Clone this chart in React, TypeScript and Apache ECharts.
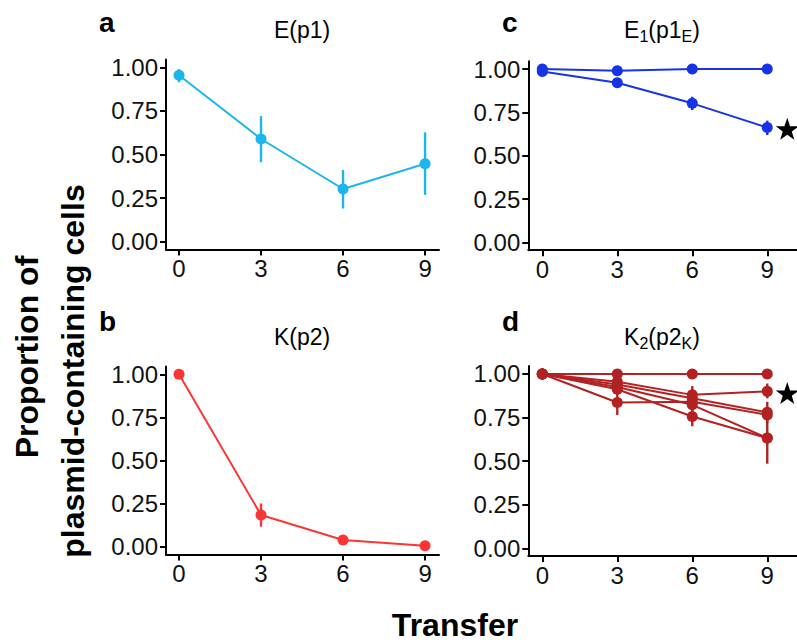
import React, { useEffect, useRef } from "react";
import * as echarts from "echarts";

const transfers = [0, 3, 6, 9];
const yTicks = [0, 0.25, 0.5, 0.75, 1];

// panel a: E(p1)
const aMean = [0.955, 0.589, 0.302, 0.447];
const aLo = [0.914, 0.455, 0.19, 0.268];
const aHi = [0.99, 0.72, 0.411, 0.627];

// panel b: K(p2)
const bMean = [1.0, 0.184, 0.039, 0.006];
const bLo = [1.0, 0.116, 0.039, 0.006];
const bHi = [1.0, 0.251, 0.039, 0.006];

// panel c: E1(p1E)
const cLine1 = [1.0, 0.99, 1.0, 1.0];
const cLine2 = [0.985, 0.921, 0.802, 0.662];
const cLine2Lo = [0.975, 0.912, 0.763, 0.619];
const cLine2Hi = [0.995, 0.93, 0.84, 0.702];

// panel d: K2(p2K)
const dLines = [
  [1.0, 1.0, 1.0, 1.0],
  [1.0, 0.955, 0.88, 0.9],
  [1.0, 0.94, 0.86, 0.78],
  [1.0, 0.836, 0.84, 0.765],
  [1.0, 0.925, 0.823, 0.632],
  [1.0, 0.912, 0.756, 0.632],
];
const dLo = [
  [1.0, 1.0, 1.0, 1.0],
  [1.0, 0.94, 0.85, 0.86],
  [1.0, 0.92, 0.8, 0.72],
  [1.0, 0.765, 0.82, 0.74],
  [1.0, 0.9, 0.79, 0.485],
  [1.0, 0.89, 0.7, 0.6],
];
const dHi = [
  [1.0, 1.0, 1.0, 1.0],
  [1.0, 0.97, 0.93, 0.945],
  [1.0, 0.96, 0.9, 0.84],
  [1.0, 0.908, 0.86, 0.79],
  [1.0, 0.95, 0.85, 0.78],
  [1.0, 0.93, 0.81, 0.66],
];

// star markers (significance)
const starC = [9.8, 0.655];
const starD = [9.8, 0.89];

const COL_A = "#1cb6ec";
const COL_B = "#fb3535";
const COL_C = "#1634e6";
const COL_D = "#b22222";

const FONT = "'Liberation Sans', Arial, Helvetica, sans-serif";
const STAR =
  "path://M50,0 L61.8,35.5 L98,35.5 L68.8,57.5 L79.6,92 L50,70.8 L20.4,92 L31.2,57.5 L2,35.5 L38.2,35.5 Z";

export default function App() {
  const ref = useRef<HTMLDivElement>(null);

  useEffect(() => {
    if (!ref.current) return;
    const chart = echarts.init(ref.current, null, { renderer: "svg" });

    const grids = [
      { left: 166, top: 59.5, width: 273, height: 190 },
      { left: 166, top: 366.5, width: 273, height: 188 },
      { left: 528.3, top: 61.2, width: 268.7, height: 189 },
      { left: 528.3, top: 366.1, width: 268.7, height: 190 },
    ];
    const xr = [
      [-0.476, 9.51],
      [-0.476, 9.51],
      [-0.56, 10.19],
      [-0.56, 10.19],
    ];

    const axisLineStyle = { color: "#000", width: 2 };
    const xAxes = grids.map((_, i) => ({
      type: "value",
      gridIndex: i,
      min: xr[i][0],
      max: xr[i][1],
      splitLine: { show: false },
      axisLine: { show: true, onZero: false, lineStyle: axisLineStyle },
      axisTick: {
        show: true,
        length: 6,
        lineStyle: { color: "#000", width: 2 },
        customValues: transfers,
      },
      axisLabel: {
        show: true,
        customValues: transfers,
        fontSize: 24,
        fontFamily: FONT,
        color: "#111",
        margin: 7,
      },
    }));
    const yAxes = grids.map((_, i) => ({
      type: "value",
      gridIndex: i,
      min: -0.045,
      max: 1.045,
      splitLine: { show: false },
      axisLine: { show: true, onZero: false, lineStyle: axisLineStyle },
      axisTick: {
        show: true,
        length: 6,
        lineStyle: { color: "#000", width: 2 },
        customValues: yTicks,
      },
      axisLabel: {
        show: true,
        customValues: yTicks,
        formatter: (v: number) => v.toFixed(2),
        fontSize: 24,
        fontFamily: FONT,
        color: "#111",
        margin: 8,
      },
    }));

    const lineSeries = (idx: number, vals: number[], color: string, z = 3) => ({
      type: "line",
      xAxisIndex: idx,
      yAxisIndex: idx,
      data: transfers.map((t, k) => [t, vals[k]]),
      symbol: "circle",
      symbolSize: 11,
      showSymbol: true,
      lineStyle: { color, width: 2 },
      itemStyle: { color, opacity: 1 },
      z,
    });

    const errSeries = (idx: number, lo: number[], hi: number[], color: string) => ({
      type: "custom",
      xAxisIndex: idx,
      yAxisIndex: idx,
      data: transfers.map((t, k) => [t, lo[k], hi[k]]),
      encode: { x: 0, y: [1, 2] },
      renderItem: (params: any, api: any) => {
        const x = api.value(0);
        const p1 = api.coord([x, api.value(1)]);
        const p2 = api.coord([x, api.value(2)]);
        return {
          type: "line",
          shape: { x1: p1[0], y1: p1[1], x2: p2[0], y2: p2[1] },
          style: { stroke: color, lineWidth: 2.4 },
        };
      },
      z: 2,
    });

    const starSeries = (idx: number, pos: number[]) => ({
      type: "scatter",
      xAxisIndex: idx,
      yAxisIndex: idx,
      data: [pos],
      symbol: STAR,
      symbolSize: [23, 22],
      itemStyle: { color: "#000", opacity: 1 },
      z: 5,
    });

    const series: any[] = [
      errSeries(0, aLo, aHi, COL_A),
      lineSeries(0, aMean, COL_A),
      errSeries(1, bLo, bHi, COL_B),
      lineSeries(1, bMean, COL_B),
      errSeries(2, cLine2Lo, cLine2Hi, COL_C),
      lineSeries(2, cLine1, COL_C),
      lineSeries(2, cLine2, COL_C),
      starSeries(2, starC),
      starSeries(3, starD),
    ];
    dLines.forEach((vals, i) => {
      series.push(errSeries(3, dLo[i], dHi[i], COL_D));
      series.push(lineSeries(3, vals, COL_D));
    });

    const titleRich = {
      m: { fontSize: 23, fontFamily: FONT, color: "#111", lineHeight: 28 },
      s: {
        fontSize: 16,
        fontFamily: FONT,
        color: "#111",
        lineHeight: 15,
        verticalAlign: "bottom",
      },
    };

    const panelTitle = (x: number, y: number, text: string) => ({
      type: "text",
      x,
      y,
      style: {
        text,
        rich: titleRich,
        align: "center",
        verticalAlign: "middle",
        textAlign: "center",
        textVerticalAlign: "middle",
      },
    });

    const letter = (x: number, y: number, t: string) => ({
      type: "text",
      x,
      y,
      style: {
        text: t,
        font: `bold 28px ${FONT}`,
        fill: "#000",
        textAlign: "left",
        textVerticalAlign: "middle",
      },
    });

    const option: any = {
      animation: false,
      backgroundColor: "#ffffff",
      grid: grids.map((g) => ({ ...g, containLabel: false })),
      xAxis: xAxes,
      yAxis: yAxes,
      series,
      graphic: [
        letter(99, 22, "a"),
        letter(502, 22, "c"),
        letter(99, 321, "b"),
        letter(502, 321, "d"),
        panelTitle(302, 30, "{m|E(p1)}"),
        panelTitle(662, 30, "{m|E}{s|1}{m|(p1}{s|E}{m|)}"),
        panelTitle(302, 337, "{m|K(p2)}"),
        panelTitle(662, 337, "{m|K}{s|2}{m|(p2}{s|K}{m|)}"),
        {
          type: "text",
          x: 27,
          y: 357,
          rotation: Math.PI / 2,
          style: {
            text: "Proportion of",
            font: `bold 32px ${FONT}`,
            fill: "#000",
            textAlign: "center",
            textVerticalAlign: "middle",
          },
        },
        {
          type: "text",
          x: 73,
          y: 371,
          rotation: Math.PI / 2,
          style: {
            text: "plasmid-containing cells",
            font: `bold 32px ${FONT}`,
            fill: "#000",
            textAlign: "center",
            textVerticalAlign: "middle",
          },
        },
        {
          type: "text",
          x: 455,
          y: 625,
          style: {
            text: "Transfer",
            font: `bold 32px ${FONT}`,
            fill: "#000",
            textAlign: "center",
            textVerticalAlign: "middle",
          },
        },
      ],
    };

    chart.setOption(option);
    return () => chart.dispose();
  }, []);

  return (
    <div
      ref={ref}
      style={{ position: "absolute", left: 0, top: 0, width: 797, height: 643 }}
    />
  );
}
